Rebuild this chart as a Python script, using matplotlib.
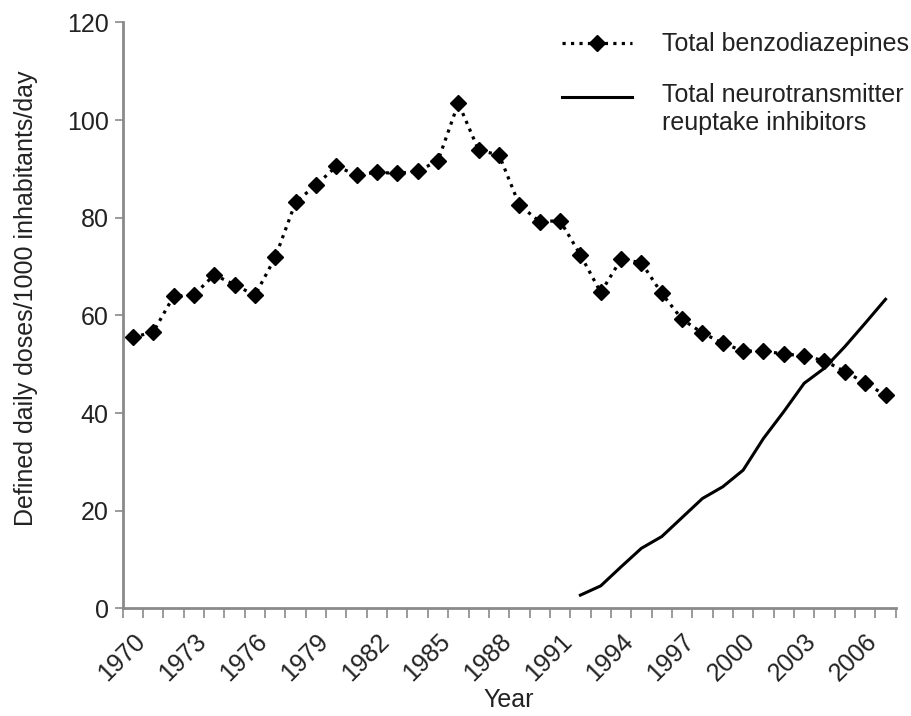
import matplotlib.pyplot as plt
from matplotlib.ticker import MultipleLocator

plt.rcParams['font.family'] = ['Liberation Sans', 'DejaVu Sans']

years = list(range(1970, 2008))
benzo = [55.5, 56.6, 63.9, 64.2, 68.3, 66.3, 64.1, 71.9, 83.2, 86.7,
         90.5, 88.8, 89.3, 89.1, 89.5, 91.7, 103.5, 93.8, 92.9, 82.6,
         79.2, 79.4, 72.4, 64.7, 71.5, 70.8, 64.5, 59.2, 56.4, 54.3,
         52.7, 52.7, 52.1, 51.7, 50.7, 48.5, 46.2, 43.6]
nri_years = list(range(1992, 2008))
nri = [2.7, 4.6, 8.5, 12.3, 14.7, 18.6, 22.5, 24.9, 28.3, 34.8,
       40.3, 46.1, 49.2, 53.6, 58.4, 63.3]
label_years = list(range(1970, 2007, 3))

fig = plt.figure(figsize=(9.11, 7.16), dpi=100)
ax = fig.add_axes([0.1347, 0.1504, 0.8485, 0.8182])

gray = '#8a8a8a'
txt = '#222222'
fs = 18
ax.plot(years, benzo, color='black', linestyle=':', linewidth=2.3,
        marker='D', markersize=8, label='Total benzodiazepines')
ax.plot(nri_years, nri, color='black', linestyle='-', linewidth=2.2,
        label='Total neurotransmitter\nreuptake inhibitors')

ax.set_xlim(1969.5, 2007.5)
ax.set_ylim(0, 120)
ax.set_yticks(range(0, 121, 20))
ax.set_xticks(label_years)
ax.set_xticklabels([str(y) for y in label_years], rotation=45,
                   ha='right', rotation_mode='anchor')
ax.xaxis.set_minor_locator(MultipleLocator(1, offset=0.5))

for s in ['top', 'right']:
    ax.spines[s].set_visible(False)
for s in ['left', 'bottom']:
    ax.spines[s].set_color(gray)
    ax.spines[s].set_linewidth(2)

ax.tick_params(axis='x', which='major', length=0, pad=15, labelsize=fs,
               labelcolor=txt)
ax.tick_params(axis='x', which='minor', length=7, width=1.2, color=gray)
ax.tick_params(axis='y', length=6, width=1.2, color=gray, labelsize=fs,
               labelcolor=txt, pad=4)

ax.set_xlabel('Year', fontsize=fs, color=txt, labelpad=2)
ax.set_ylabel('Defined daily doses/1000 inhabitants/day', fontsize=fs,
              color=txt)
ax.yaxis.set_label_coords(-0.110, 0.53)

leg = ax.legend(loc='upper right', bbox_to_anchor=(1.046, 1.0215),
                frameon=False, fontsize=fs, handlelength=2.8,
                handletextpad=1.2, labelspacing=1.06, labelcolor=txt)
# put the solid handle beside the first line of its two-line label
h = leg.legend_handles[1]
h.set_ydata([y + 9 for y in h.get_ydata()])

fig.savefig('out.png', dpi=100)
